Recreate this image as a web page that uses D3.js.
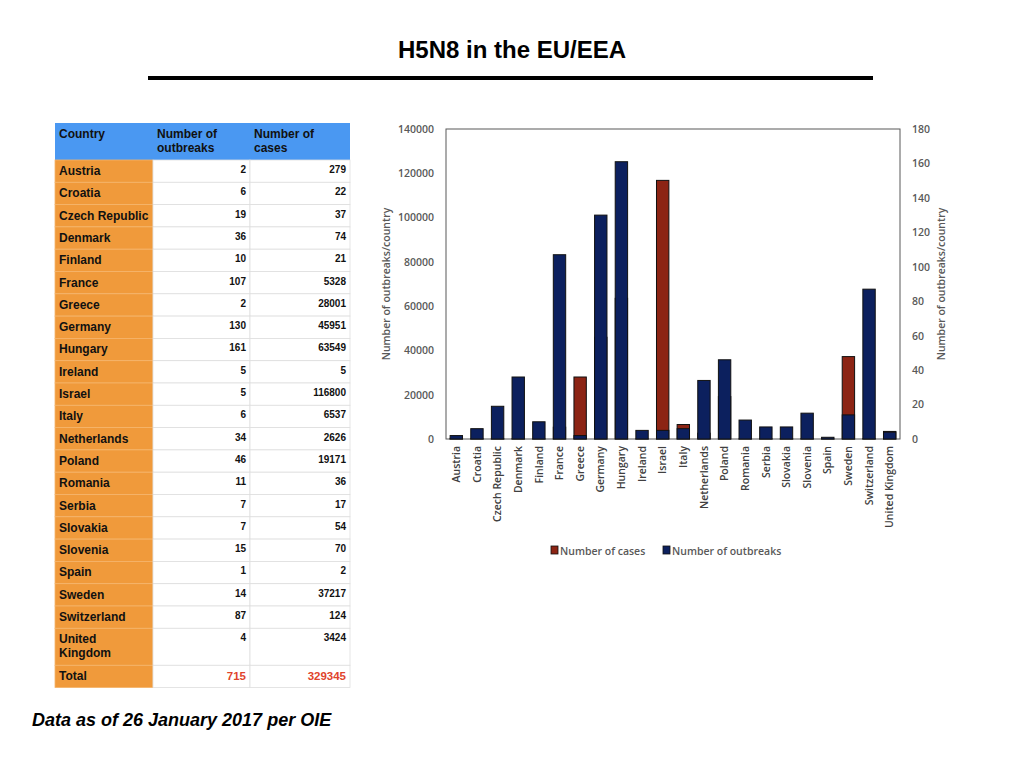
<!DOCTYPE html>
<html>
<head>
<meta charset="utf-8">
<script src="https://cdn.jsdelivr.net/npm/d3@7"></script>
<style>
  body { margin: 0; background: #fff; }
  svg { display: block; }
</style>
</head>
<body>
<div id="chart"></div>
<script>
// H5N8 outbreaks and cases per country (table + dual axis bars)
const countries = ["Austria", "Croatia", "Czech Republic", "Denmark", "Finland", "France", "Greece",
    "Germany", "Hungary", "Ireland", "Israel", "Italy", "Netherlands", "Poland", "Romania", "Serbia",
    "Slovakia", "Slovenia", "Spain", "Sweden", "Switzerland", "United Kingdom"];
const outbreaks = [2, 6, 19, 36, 10, 107, 2, 130, 161, 5, 5, 6, 34, 46, 11, 7, 7, 15, 1, 14, 87, 4];
const cases = [279, 22, 37, 74, 21, 5328, 28001, 45951, 63549, 5, 116800, 6537, 2626, 19171, 36, 17, 54, 70, 2, 37217, 124, 3424];
const totals = [715, 329345];
const headers = ["Country", "Number of|outbreaks", "Number of|cases"];
const casesTicks = [0, 20000, 40000, 60000, 80000, 100000, 120000, 140000];
const outbreakTicks = [0, 20, 40, 60, 80, 100, 120, 140, 160, 180];

const W = 1024, H = 768;
const svg = d3.select("#chart").append("svg").attr("width", W).attr("height", H);

// Title
svg.append("text")
    .attr("x", 512).attr("y", 58)
    .attr("text-anchor", "middle")
    .style("font-family", "'Liberation Sans Narrow', 'Liberation Sans', Arial, sans-serif")
    .style("font-weight", "bold").style("font-size", "24px")
    .text("H5N8 in the EU/EEA");
svg.append("rect").attr("x", 148).attr("y", 76).attr("width", 725).attr("height", 4).attr("fill", "#000");

// ---- Table ----
const colX = [55, 153, 250, 350];
const tbl = svg.append("g").style("font-family", "'Liberation Sans', Arial, sans-serif").style("font-weight", "bold");
const headTop = 123, headBot = 160, rowH = 22.3;

tbl.append("rect").attr("x", colX[0]).attr("y", headTop).attr("width", colX[3] - colX[0])
    .attr("height", headBot - headTop).attr("fill", "#4a98f2");
headers.forEach((h, i) => {
    const t = tbl.append("text").attr("x", colX[i] + 4).attr("y", headTop + 15)
        .style("font-size", "12px").attr("fill", "#111");
    h.split("|").forEach((line, j) => t.append("tspan").attr("x", colX[i] + 4).attr("dy", j ? 14 : 0).text(line));
});

const rows = countries.map((c, i) => ({ name: c, o: outbreaks[i], c: cases[i] }));
rows.push({ name: "Total", o: totals[0], c: totals[1], total: true });
let y0 = headBot;
rows.forEach(r => {
    const h = r.name === "United Kingdom" ? 37 : rowH;
    r.y = y0; r.h = h; y0 += h;
});

const rg = tbl.selectAll("g.row").data(rows).enter().append("g").attr("class", "row");
rg.append("rect").attr("x", colX[0]).attr("y", d => d.y).attr("width", colX[1] - colX[0])
    .attr("height", d => d.h).attr("fill", "#f09a3b").attr("stroke", "#f5b56c").attr("stroke-width", 0.8);
rg.append("rect").attr("x", colX[1]).attr("y", d => d.y).attr("width", colX[2] - colX[1])
    .attr("height", d => d.h).attr("fill", "#fff").attr("stroke", "#dedede").attr("stroke-width", 0.8);
rg.append("rect").attr("x", colX[2]).attr("y", d => d.y).attr("width", colX[3] - colX[2])
    .attr("height", d => d.h).attr("fill", "#fff").attr("stroke", "#dedede").attr("stroke-width", 0.8);

rg.each(function (d) {
    const g = d3.select(this);
    const t = g.append("text").attr("x", colX[0] + 4).attr("y", d.y + 15)
        .style("font-size", "12px").attr("fill", "#111");
    if (d.name === "United Kingdom") {
        t.append("tspan").attr("x", colX[0] + 4).text("United");
        t.append("tspan").attr("x", colX[0] + 4).attr("dy", 14).text("Kingdom");
    } else t.text(d.name);
    [d.o, d.c].forEach((v, i) => {
        g.append("text").attr("x", colX[i + 2] - 4).attr("y", d.y + (d.total ? 15 : 13))
            .attr("text-anchor", "end")
            .style("font-size", d.total ? "11.5px" : "10px")
            .attr("fill", d.total ? "#e0442c" : "#111")
            .text(v);
    });
});

// ---- Bar chart ----
const plot = { left: 446, right: 900, top: 129, bottom: 439 };
const axisFont = "'Open Sans', 'DejaVu Sans', sans-serif";

const x = d3.scaleBand().domain(countries).range([plot.left, plot.right])
    .paddingInner(0.4).paddingOuter(0.2);
const yCases = d3.scaleLinear().domain([0, 140000]).range([plot.bottom, plot.top]);
const yOut = d3.scaleLinear().domain([0, 180]).range([plot.bottom, plot.top]);

const red = "#8c2414", navy = "#0c205e";

svg.append("rect").attr("x", plot.left).attr("y", plot.top)
    .attr("width", plot.right - plot.left).attr("height", plot.bottom - plot.top)
    .attr("fill", "none").attr("stroke", "#595959").attr("stroke-width", 1);

// cases on the left axis, outbreaks on the right axis drawn over them
svg.append("g").selectAll("rect").data(countries).enter().append("rect")
    .attr("x", d => x(d)).attr("width", x.bandwidth())
    .attr("y", (d, i) => yCases(cases[i]))
    .attr("height", (d, i) => plot.bottom - yCases(cases[i]))
    .attr("fill", red).attr("stroke", "#111").attr("stroke-width", 1);

svg.append("g").selectAll("rect").data(countries).enter().append("rect")
    .attr("x", d => x(d)).attr("width", x.bandwidth())
    .attr("y", (d, i) => yOut(outbreaks[i]))
    .attr("height", (d, i) => plot.bottom - yOut(outbreaks[i]))
    .attr("fill", navy).attr("stroke", "#111").attr("stroke-width", 1);

const leftAxis = svg.append("g").attr("transform", `translate(${plot.left},0)`)
    .call(d3.axisLeft(yCases).tickValues(casesTicks).tickFormat(d3.format("d")).tickSize(0).tickPadding(12));
const rightAxis = svg.append("g").attr("transform", `translate(${plot.right},0)`)
    .call(d3.axisRight(yOut).tickValues(outbreakTicks).tickFormat(d3.format("d")).tickSize(0).tickPadding(12));
[leftAxis, rightAxis].forEach(a => {
    a.select(".domain").remove();
    a.selectAll("text").style("font-family", axisFont).style("font-size", "10.5px")
        .style("font-weight", "600").attr("fill", "#595959");
});

const xAxis = svg.append("g").attr("transform", `translate(0,${plot.bottom})`)
    .call(d3.axisBottom(x).tickSize(0).tickPadding(0));
xAxis.select(".domain").remove();
xAxis.selectAll("text")
    .attr("transform", "rotate(-90)")
    .attr("x", -7).attr("y", 0).attr("dy", "0.35em")
    .attr("text-anchor", "end")
    .style("font-family", axisFont).style("font-size", "10.5px").style("font-weight", "600")
    .attr("fill", "#404040");

const axisTitle = (tx, ty) => svg.append("text")
    .attr("transform", `translate(${tx},${ty}) rotate(-90)`)
    .attr("text-anchor", "middle")
    .style("font-family", axisFont).style("font-size", "10.5px").style("font-weight", "600")
    .attr("fill", "#595959")
    .text("Number of outbreaks/country");
axisTitle(390, 284);
axisTitle(945, 284);

// Legend
const legend = [{ label: "Number of cases", color: red, x: 551 }, { label: "Number of outbreaks", color: navy, x: 663 }];
const lg = svg.append("g").selectAll("g").data(legend).enter().append("g")
    .attr("transform", d => `translate(${d.x},546)`);
lg.append("rect").attr("width", 7).attr("height", 8).attr("fill", d => d.color)
    .attr("stroke", "#111").attr("stroke-width", 0.8);
lg.append("text").attr("x", 9).attr("y", 8.5)
    .style("font-family", axisFont).style("font-size", "10.5px").style("font-weight", "600")
    .attr("fill", "#595959").text(d => d.label);

// Footnote
svg.append("text").attr("x", 32).attr("y", 726)
    .style("font-family", "'Liberation Sans', Arial, sans-serif")
    .style("font-weight", "bold").style("font-style", "italic").style("font-size", "18px")
    .text("Data as of 26 January 2017 per OIE");
</script>
</body>
</html>
